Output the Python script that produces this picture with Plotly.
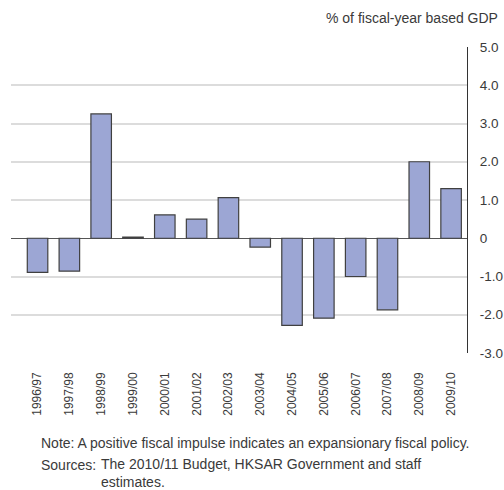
import plotly.graph_objects as go

categories = ["1996/97", "1997/98", "1998/99", "1999/00", "2000/01", "2001/02", "2002/03",
              "2003/04", "2004/05", "2005/06", "2006/07", "2007/08", "2008/09", "2009/10"]
values = [-0.89, -0.86, 3.25, 0.03, 0.61, 0.50, 1.06, -0.23, -2.28, -2.09, -1.00, -1.87, 2.00, 1.30]
tick_vals = [-3, -2, -1, 0, 1, 2, 3, 4, 5]
tick_text = ["-3.0", "-2.0", "-1.0", "0", "1.0", "2.0", "3.0", "4.0", "5.0"]
grid_vals = [-2, -1, 1, 2, 3, 4]

W, H = 504, 490
ML, MR, MT, MB = 11, 37, 47, 137
PW, PH = W - ML - MR, H - MT - MB

def px(x):
    return (x - ML) / PW

def py(y):
    return (H - MB - y) / PH

FONT = "Liberation Sans, Arial, Helvetica, sans-serif"
TXT = "#3a3a3a"

fig = go.Figure()
fig.add_trace(go.Bar(
    x=categories, y=values, width=0.645,
    marker=dict(color="#9CA6D4", line=dict(color="#404040", width=1.2)),
    hoverinfo="x+y",
))
# invisible trace to anchor grid axis
fig.add_trace(go.Scatter(x=[categories[0]], y=[0], yaxis="y2", mode="markers",
                         marker=dict(opacity=0), showlegend=False, hoverinfo="skip"))

fig.update_layout(
    width=W, height=H,
    margin=dict(l=ML, r=MR, t=MT, b=MB),
    paper_bgcolor="white", plot_bgcolor="white",
    showlegend=False,
    bargap=0.355,
    font=dict(family=FONT, color=TXT),
    xaxis=dict(
        type="category", tickangle=-90, showline=False, showgrid=False, zeroline=False,
        ticks="", tickfont=dict(size=12, color=TXT, family=FONT), ticklabelstandoff=16,
        automargin=False,
    ),
    yaxis=dict(
        range=[-3, 5], side="right", tickvals=tick_vals, ticktext=tick_text,
        showgrid=False, zeroline=True, zerolinecolor="#555555", zerolinewidth=1.2,
        showline=True, linecolor="#333333", linewidth=1, ticks="",
        tickfont=dict(size=13.5, color=TXT, family=FONT), ticklabelstandoff=9,
        automargin=False,
    ),
    yaxis2=dict(
        range=[-3, 5], overlaying="y", side="left", tickvals=grid_vals, showticklabels=False,
        showgrid=True, gridcolor="#DCDCDC", gridwidth=1.5, zeroline=False, showline=False,
        layer="below traces", automargin=False,
    ),
)

annots = [
    dict(text="% of fiscal-year based GDP", x=px(500), y=py(18), xanchor="right", yanchor="middle",
         font=dict(size=14, color=TXT)),
    dict(text="Note: A positive fiscal impulse indicates an expansionary fiscal policy.",
         x=px(39), y=py(443), xanchor="left", yanchor="middle", font=dict(size=14, color=TXT)),
    dict(text="Sources:", x=px(39), y=py(465), xanchor="left", yanchor="middle",
         font=dict(size=14, color=TXT)),
    dict(text="The 2010/11 Budget, HKSAR Government and staff<br>estimates.", align="left",
         x=px(100), y=py(455), xanchor="left", yanchor="top", font=dict(size=14, color=TXT),
         borderpad=0),
]
for a in annots:
    fig.add_annotation(xref="paper", yref="paper", showarrow=False, **a)

fig.write_html("out.html", config={"displayModeBar": False},
               post_script="document.body.style.margin='0';document.body.style.overflow='hidden';")
